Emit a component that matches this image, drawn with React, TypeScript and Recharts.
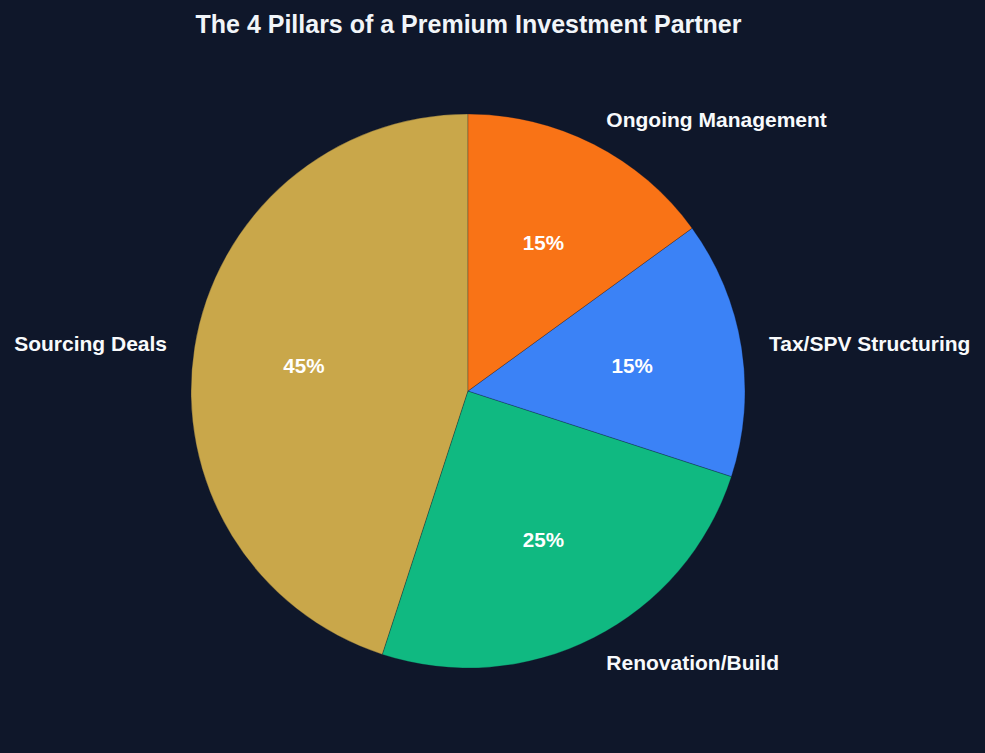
import { PieChart, Pie, Cell } from "recharts";

const pillars = ["Sourcing Deals", "Renovation/Build", "Tax/SPV Structuring", "Ongoing Management"];
const shares = [45, 25, 15, 15];

const COLORS = [
  "#c9a74a", // sourcing - gold
  "#10b981", // renovation - green
  "#3b82f6", // tax - blue
  "#f97316", // management - orange
];

const BG = "#0f172a";
const FONT = "'Liberation Sans', Arial, sans-serif";
const RADIAN = Math.PI / 180;

const data = pillars.map((name, i) => ({ name, value: shares[i] }));

// matplotlib-style labels: name at 1.1r, percentage at 0.6r
const renderLabel = (props: any) => {
  const { cx, cy, midAngle, outerRadius, percent, name } = props;
  const cos = Math.cos(-midAngle * RADIAN);
  const sin = Math.sin(-midAngle * RADIAN);
  const nx = cx + outerRadius * 1.1 * cos;
  const ny = cy + outerRadius * 1.1 * sin;
  const px = cx + outerRadius * 0.6 * cos;
  const py = cy + outerRadius * 0.6 * sin;
  return (
    <g>
      <text
        x={nx}
        y={ny}
        textAnchor={nx > cx ? "start" : "end"}
        dominantBaseline="central"
        fill="#f8fafc"
        fontFamily={FONT}
        fontWeight="bold"
        fontSize={21}
      >
        {name}
      </text>
      <text
        x={px}
        y={py}
        textAnchor="middle"
        dominantBaseline="central"
        fill="#ffffff"
        fontFamily={FONT}
        fontWeight="bold"
        fontSize={20.6}
      >
        {`${Math.round(percent * 100)}%`}
      </text>
    </g>
  );
};

const App = () => {
  return (
    <div style={{ position: "absolute", top: 0, left: 0, width: 985, height: 753, background: BG }}>
      <div
        style={{
          position: "absolute",
          top: 9,
          left: 0,
          width: 937,
          textAlign: "center",
          fontFamily: FONT,
          fontWeight: "bold",
          fontSize: 25,
          lineHeight: "30px",
          color: "#f1f5f9",
        }}
      >
        The 4 Pillars of a Premium Investment Partner
      </div>
      <PieChart width={985} height={753} margin={{ top: 0, right: 0, bottom: 0, left: 0 }}>
        <Pie
          data={data}
          dataKey="value"
          nameKey="name"
          cx={468}
          cy={391}
          outerRadius={277}
          startAngle={90}
          endAngle={450}
          label={renderLabel}
          labelLine={false}
          isAnimationActive={false}
        >
          {data.map((_, i) => (
            <Cell key={`cell-${i}`} fill={COLORS[i]} stroke="rgba(15,23,42,0.35)" strokeWidth={0.8} />
          ))}
        </Pie>
      </PieChart>
    </div>
  );
};

export default App;
